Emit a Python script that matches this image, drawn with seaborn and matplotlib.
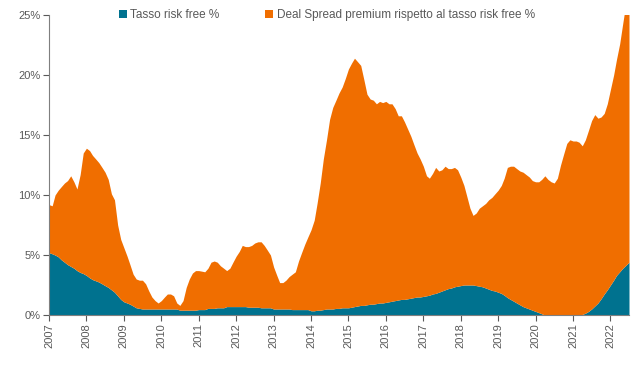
import matplotlib
matplotlib.use("Agg")
import numpy as np
import pandas as pd
import seaborn as sns
import matplotlib.pyplot as plt
import matplotlib.dates as mdates

# valori mensili (gen 2007 - lug 2022)
totale = [
    9.2, 9.1, 10.0, 10.4, 10.7, 11.0, 11.2, 11.6, 11.1, 10.5, 11.7, 13.5,
    13.9, 13.7, 13.3, 13.0, 12.7, 12.3, 11.9, 11.3, 10.1, 9.6, 7.5, 6.3,
    5.6, 4.9, 4.2, 3.4, 3.0, 2.9, 2.9, 2.6, 2.0, 1.5, 1.2, 1.0,
    1.2, 1.5, 1.75, 1.75, 1.6, 1.0, 0.8, 1.2, 2.3, 3.0, 3.5, 3.7,
    3.7, 3.65, 3.6, 3.9, 4.4, 4.5, 4.4, 4.1, 3.9, 3.7, 3.9, 4.4,
    4.9, 5.3, 5.8, 5.7, 5.7, 5.8, 6.0, 6.1, 6.1, 5.8, 5.4, 5.0,
    4.0, 3.3, 2.7, 2.7, 2.9, 3.2, 3.4, 3.6, 4.5, 5.2, 5.9, 6.5,
    7.1, 7.9, 9.3, 11.0, 13.0, 14.6, 16.3, 17.3, 17.9, 18.5, 19.0, 19.7,
    20.5, 21.0, 21.4, 21.1, 20.8, 19.6, 18.4, 18.0, 17.9, 17.6, 17.8, 17.7,
    17.8, 17.6, 17.6, 17.2, 16.6, 16.6, 16.1, 15.5, 14.9, 14.2, 13.5, 13.0,
    12.4, 11.6, 11.4, 11.8, 12.3, 12.0, 12.1, 12.4, 12.2, 12.2, 12.3, 12.1,
    11.5, 10.8, 9.9, 8.9, 8.3, 8.5, 8.9, 9.1, 9.3, 9.6, 9.8, 10.1,
    10.4, 10.8, 11.4, 12.3, 12.4, 12.4, 12.2, 12.0, 11.9, 11.7, 11.5, 11.2,
    11.1, 11.1, 11.3, 11.6, 11.3, 11.1, 11.0, 11.4, 12.5, 13.4, 14.3, 14.6,
    14.5, 14.5, 14.4, 14.1, 14.6, 15.4, 16.2, 16.7, 16.4, 16.5, 16.8, 17.6,
    18.8, 20.0, 21.3, 22.6, 24.3, 26.0, 26.5,
]
risk_free = [
    5.2, 5.1, 5.0, 4.85, 4.6, 4.4, 4.2, 4.05, 3.9, 3.7, 3.55, 3.45,
    3.3, 3.1, 2.95, 2.85, 2.75, 2.6, 2.45, 2.3, 2.1, 1.9, 1.6, 1.3,
    1.1, 1.0, 0.9, 0.75, 0.6, 0.55, 0.5, 0.5, 0.5, 0.5, 0.5, 0.5,
    0.5, 0.5, 0.5, 0.5, 0.5, 0.5, 0.4, 0.4, 0.4, 0.4, 0.4, 0.4,
    0.45, 0.45, 0.45, 0.55, 0.55, 0.55, 0.6, 0.6, 0.6, 0.7, 0.7, 0.7,
    0.7, 0.7, 0.7, 0.7, 0.65, 0.65, 0.65, 0.65, 0.6, 0.6, 0.6, 0.6,
    0.5, 0.5, 0.5, 0.5, 0.5, 0.5, 0.45, 0.45, 0.45, 0.45, 0.45, 0.45,
    0.35, 0.35, 0.4, 0.4, 0.45, 0.5, 0.5, 0.5, 0.55, 0.55, 0.6, 0.6,
    0.6, 0.65, 0.7, 0.75, 0.8, 0.8, 0.85, 0.9, 0.9, 0.95, 1.0, 1.0,
    1.05, 1.1, 1.15, 1.2, 1.25, 1.3, 1.3, 1.35, 1.4, 1.45, 1.5, 1.5,
    1.55, 1.6, 1.65, 1.75, 1.8, 1.9, 2.0, 2.1, 2.2, 2.25, 2.35, 2.4,
    2.45, 2.5, 2.5, 2.5, 2.5, 2.45, 2.4, 2.35, 2.25, 2.15, 2.05, 2.0,
    1.9, 1.8, 1.65, 1.45, 1.3, 1.15, 1.0, 0.85, 0.7, 0.6, 0.5, 0.4,
    0.3, 0.2, 0.1, 0.0, 0.0, 0.0, 0.0, 0.0, 0.0, 0.0, 0.0, 0.0,
    0.0, 0.0, 0.0, 0.05, 0.15, 0.3, 0.5, 0.75, 1.0, 1.35, 1.75, 2.1,
    2.5, 2.9, 3.3, 3.6, 3.9, 4.15, 4.4,
]
anni = list(range(2007, 2023))
serie = ["Tasso risk free %", "Deal Spread premium rispetto al tasso risk free %"]
colori = ["#00728F", "#F06E00"]

date = pd.date_range("2007-01-01", periods=len(totale), freq="MS")
df = pd.DataFrame({"data": date, "rf": risk_free, "tot": totale})
df["spread"] = df["tot"] - df["rf"]

sns.set_theme(style="white")
plt.rcParams["font.family"] = ["Liberation Sans", "DejaVu Sans"]

fig = plt.figure(figsize=(6.4, 3.74), dpi=100)
ax = fig.add_axes([49 / 640, 59 / 374, 580 / 640, 300 / 374])

ax.stackplot(df["data"], df["rf"], df["spread"], colors=colori, labels=serie, linewidth=0)

ax.set_xlim(df["data"].iloc[0], df["data"].iloc[-1])
ax.set_ylim(0, 25)
ax.set_yticks(range(0, 26, 5))
ax.set_yticklabels([f"{v}%" for v in range(0, 26, 5)])
ax.set_xticks([pd.Timestamp(f"{a}-01-01") for a in anni])
ax.set_xticklabels([str(a) for a in anni], rotation=90)

grigio = "#595959"
ax.tick_params(axis="both", labelsize=8, colors=grigio, length=4, width=0.8, direction="out",
               left=True, bottom=True, pad=2)
for lab in ax.get_xticklabels() + ax.get_yticklabels():
    lab.set_color(grigio)
for s in ["top", "right"]:
    ax.spines[s].set_visible(False)
for s in ["left", "bottom"]:
    ax.spines[s].set_color("#7f7f7f")
    ax.spines[s].set_linewidth(0.8)

leg = ax.legend(loc="center", bbox_to_anchor=(0.479, 1.0), ncol=2, frameon=False,
                fontsize=8.5, handlelength=0.65, handleheight=0.65, handletextpad=0.3,
                columnspacing=3.9, borderpad=0)
for t in leg.get_texts():
    t.set_color(grigio)

fig.savefig("out.png", dpi=100)
